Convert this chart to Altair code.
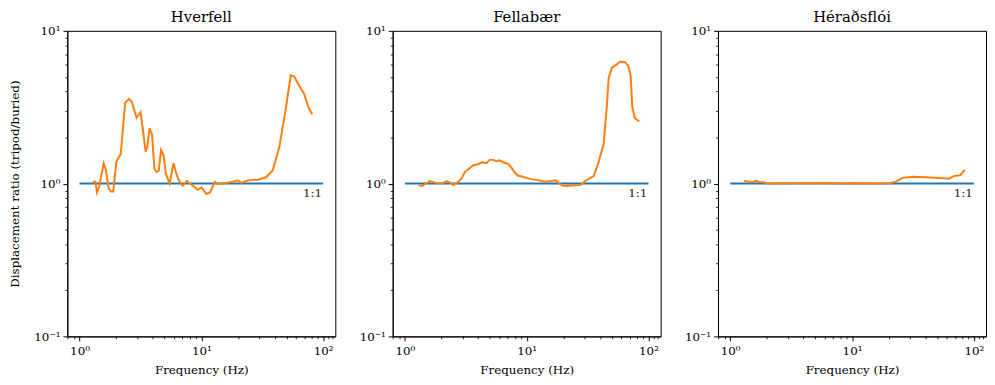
import altair as alt
import pandas as pd

# ---------------- data ----------------
panel_titles = ["Hverfell", "Fellabær", "Héraðsflói"]

hverfell_freq = [1.28, 1.35, 1.39, 1.45, 1.58, 1.65, 1.73, 1.81, 1.89, 2.01, 2.18, 2.37,
                 2.55, 2.68, 2.94, 3.17, 3.27, 3.49, 3.59, 3.76, 3.94, 4.12, 4.28, 4.47,
                 4.67, 4.91, 5.12, 5.49, 5.92, 6.18, 6.50, 7.01, 7.59, 8.25, 9.33, 10.05,
                 11.0, 11.8, 12.9, 13.7, 15.6, 18.2, 20.0, 21.3, 24.1, 29.1, 34.0, 38.5,
                 43.6, 49.4, 54.2, 57.8, 63.4, 69.7, 76.5, 81.4]
hverfell_ratio = [1.03, 1.03, 0.876, 0.957, 1.36, 1.23, 0.933, 0.889, 0.889, 1.40, 1.56, 3.38,
                  3.59, 3.45, 2.70, 2.94, 2.43, 1.62, 1.72, 2.31, 2.09, 1.25, 1.19, 1.21,
                  1.66, 1.52, 1.16, 1.00, 1.36, 1.19, 1.06, 0.971, 1.04, 0.99, 0.91, 0.943,
                  0.855, 0.876, 1.03, 0.995, 1.01, 1.03, 1.05, 1.01, 1.05, 1.06, 1.10, 1.22,
                  1.72, 3.10, 5.11, 5.03, 4.38, 3.88, 3.10, 2.84]

fellabaer_freq = [1.30, 1.38, 1.47, 1.60, 1.77, 1.95, 2.08, 2.21, 2.35, 2.50, 2.75, 2.92,
                  3.11, 3.64, 4.00, 4.33, 4.67, 4.97, 5.29, 5.63, 5.99, 6.38, 7.01, 7.45,
                  7.93, 8.45, 9.28, 10.8, 12.7, 13.9, 15.8, 17.3, 18.2, 19.6, 21.5, 24.4,
                  27.6, 30.3, 35.5, 38.9, 42.8, 45.6, 47.0, 50.0, 55.0, 58.5, 64.2, 68.3,
                  71.4, 73.6, 77.4, 83.9]
fellabaer_ratio = [0.98, 0.965, 0.994, 1.04, 1.015, 1.00, 1.015, 1.04, 1.015, 0.98, 1.03, 1.08,
                   1.19, 1.32, 1.34, 1.38, 1.36, 1.43, 1.43, 1.40, 1.42, 1.38, 1.35, 1.28,
                   1.19, 1.13, 1.11, 1.07, 1.05, 1.03, 1.04, 1.05, 1.015, 0.97, 0.965, 0.975,
                   0.98, 1.04, 1.12, 1.38, 1.81, 3.26, 4.84, 5.74, 6.03, 6.27, 6.24, 5.89,
                   5.08, 3.18, 2.68, 2.55]

heradsfloi_freq = [1.30, 1.43, 1.52, 1.62, 1.72, 1.89, 2.08, 3.31, 6.18, 8.45, 11.6, 15.8,
                   20.3, 22.9, 26.0, 31.3, 40.2, 51.7, 62.3, 68.4, 77.4, 84.0]
heradsfloi_ratio = [1.04, 1.03, 1.02, 1.045, 1.025, 1.02, 1.00, 1.005, 1.01, 1.00, 1.005, 1.00,
                    1.005, 1.03, 1.09, 1.11, 1.10, 1.09, 1.076, 1.12, 1.135, 1.23]

ref_freq = [1, 100]
ref_ratio = [1, 1]
ref_label = ["1:1"]

x_major = [1, 10, 100]
x_minor = [0.8, 0.9, 2, 3, 4, 5, 6, 7, 8, 9, 20, 30, 40, 50, 60, 70, 80, 90, 110, 120]
y_major = [0.1, 1, 10]
y_minor = [0.2, 0.3, 0.4, 0.5, 0.6, 0.7, 0.8, 0.9, 2, 3, 4, 5, 6, 7, 8, 9]

# ---------------- styling ----------------
FONT = "DejaVu Serif"
BLUE = "#1f77b4"
ORANGE = "#ff7f0e"
X_DOMAIN = [10 ** -0.1, 10 ** 2.1]
Y_DOMAIN = [0.1, 10]
LABEL_EXPR = ("datum.value < 0.5 ? '10⁻¹' : datum.value < 5 ? '10⁰' : "
              "datum.value < 50 ? '10¹' : '10²'")
W, H = 271, 309


def panel(title, freq, ratio, first):
    df = pd.DataFrame({"f": freq, "r": ratio})
    ref = pd.DataFrame({"f": ref_freq, "r": ref_ratio})
    xs = alt.Scale(type="log", domain=X_DOMAIN, nice=False)
    ys = alt.Scale(type="log", domain=Y_DOMAIN, nice=False)

    minor_x = alt.Axis(orient="bottom", values=x_minor, tickSize=2.5, labels=False,
                       domain=False, grid=False, title=None, tickColor="black", tickWidth=0.8)
    minor_y = alt.Axis(orient="left", values=y_minor, tickSize=2.5, labels=False,
                       domain=False, grid=False, title=None, tickColor="black", tickWidth=0.8)
    major_x = alt.Axis(orient="bottom", values=x_major, tickSize=4.5, labelExpr=LABEL_EXPR,
                       grid=False, title="Frequency (Hz)", domainColor="black",
                       tickColor="black", tickWidth=1, labelPadding=5, titlePadding=8)
    y_kwargs = dict(orient="left", values=y_major, tickSize=4.5, labelExpr=LABEL_EXPR,
                    grid=False, domainColor="black", tickColor="black", tickWidth=1,
                    labelPadding=3, titlePadding=12)
    if first:
        major_y = alt.Axis(title="Displacement ratio (tripod/buried)", **y_kwargs)
    else:
        major_y = alt.Axis(title=None, **y_kwargs)

    ref_line = alt.Chart(ref).mark_line(color=BLUE, strokeWidth=2).encode(
        x=alt.X("f:Q", scale=xs, axis=minor_x),
        y=alt.Y("r:Q", scale=ys, axis=minor_y),
    )
    data_line = alt.Chart(df).mark_line(color=ORANGE, strokeWidth=2).encode(
        x=alt.X("f:Q", scale=xs, axis=major_x),
        y=alt.Y("r:Q", scale=ys, axis=major_y),
    )
    label = alt.Chart(pd.DataFrame({"t": ref_label})).mark_text(
        font=FONT, fontSize=12, align="right", baseline="top", color="#222222"
    ).encode(
        x=alt.XDatum(98, axis=None),
        y=alt.YDatum(0.93, axis=None),
        text="t:N",
    )
    return alt.layer(ref_line, data_line, label).resolve_axis(
        x="independent", y="independent"
    ).properties(
        width=W, height=H,
        title=alt.TitleParams(title, font=FONT, fontSize=15, fontWeight="normal",
                              color="black", offset=0),
    )


chart = alt.hconcat(
    panel(panel_titles[0], hverfell_freq, hverfell_ratio, True),
    panel(panel_titles[1], fellabaer_freq, fellabaer_ratio, False),
    panel(panel_titles[2], heradsfloi_freq, heradsfloi_ratio, False),
    spacing=22,
).properties(
    padding={"left": 0, "top": -1, "right": 0, "bottom": 0},
    background="white",
).configure_view(
    stroke="black", strokeWidth=1
).configure_axis(
    labelFont=FONT, titleFont=FONT, labelFontSize=12, titleFontSize=12,
    labelColor="black", titleColor="black", titleFontWeight="normal",
)

chart.save("out.html", embed_options={"renderer": "svg", "actions": False})
